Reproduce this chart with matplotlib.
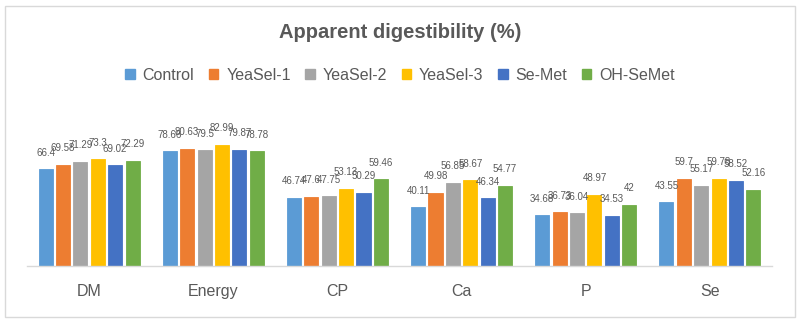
import matplotlib
matplotlib.use("Agg")
import matplotlib.pyplot as plt
from matplotlib.patches import Rectangle, Patch
import numpy as np

categories = ["DM", "Energy", "CP", "Ca", "P", "Se"]
series_names = ["Control", "YeaSel-1", "YeaSel-2", "YeaSel-3", "Se-Met", "OH-SeMet"]
control = [66.4, 78.66, 46.74, 40.11, 34.68, 43.55]
yeasel_1 = [69.58, 80.63, 47.6, 49.98, 36.73, 59.7]
yeasel_2 = [71.29, 79.5, 47.75, 56.85, 36.04, 55.17]
yeasel_3 = [73.3, 82.99, 53.13, 58.67, 48.97, 59.78]
se_met = [69.02, 79.87, 50.29, 46.34, 34.53, 58.52]
oh_semet = [72.29, 78.78, 59.46, 54.77, 42, 52.16]
colors = ["#5B9BD5", "#ED7D31", "#A5A5A5", "#FFC000", "#4472C4", "#70AD47"]

series = [control, yeasel_1, yeasel_2, yeasel_3, se_met, oh_semet]

FONT = ["Liberation Sans Narrow", "Liberation Sans", "DejaVu Sans"]
plt.rcParams["font.family"] = FONT
TEXT = "#595959"

W, H = 800, 322
fig = plt.figure(figsize=(W / 100, H / 100), dpi=100)

# light outer frame
fig.patches.append(Rectangle((5 / W, 5 / H), 790 / W, 311 / H, transform=fig.transFigure,
                             fill=False, edgecolor="#D9D9D9", linewidth=1.0))

left, right = 27, 772
base_y = 265.7
ymax = 100
scale = 1.453
top_y = base_y - ymax * scale
ax = fig.add_axes([left / W, (H - base_y) / H, (right - left) / W, (base_y - top_y) / H])

x = np.arange(len(categories))
pitch = 0.14
bw = 0.113
for i, (vals, c) in enumerate(zip(series, colors)):
    pos = x + (i - 2.5) * pitch
    ax.bar(pos, vals, width=bw, color=c, edgecolor=c, linewidth=0.6)
    for p, v in zip(pos, vals):
        ax.annotate(f"{v:g}", (p, v), xytext=(0, 12), textcoords="offset points",
                    ha="center", va="center", fontsize=7, color=TEXT)

ax.set_xlim(-0.5, len(categories) - 0.5)
ax.set_ylim(0, ymax)
ax.set_yticks([])
ax.set_xticks(x)
ax.set_xticklabels(categories, fontsize=11.5, color=TEXT)
ax.tick_params(axis="x", length=0, pad=13)
for s in ["top", "left", "right"]:
    ax.spines[s].set_visible(False)
ax.spines["bottom"].set_color("#D9D9D9")
ax.spines["bottom"].set_linewidth(1.0)
ax.patch.set_alpha(0)

fig.text(0.5, 1 - 33 / H, "Apparent digestibility (%)", ha="center", va="center",
         fontsize=14.5, color=TEXT, fontweight="bold")

handles = [Patch(facecolor=c, edgecolor=c) for c in colors]
fig.legend(handles, series_names, loc="center", bbox_to_anchor=(0.5, 1 - 75 / H),
           ncol=6, frameon=False, fontsize=11.5, handlelength=0.6, handleheight=0.6,
           handletextpad=0.5, columnspacing=0.9, labelcolor=TEXT)

fig.savefig("out.png", dpi=100)
